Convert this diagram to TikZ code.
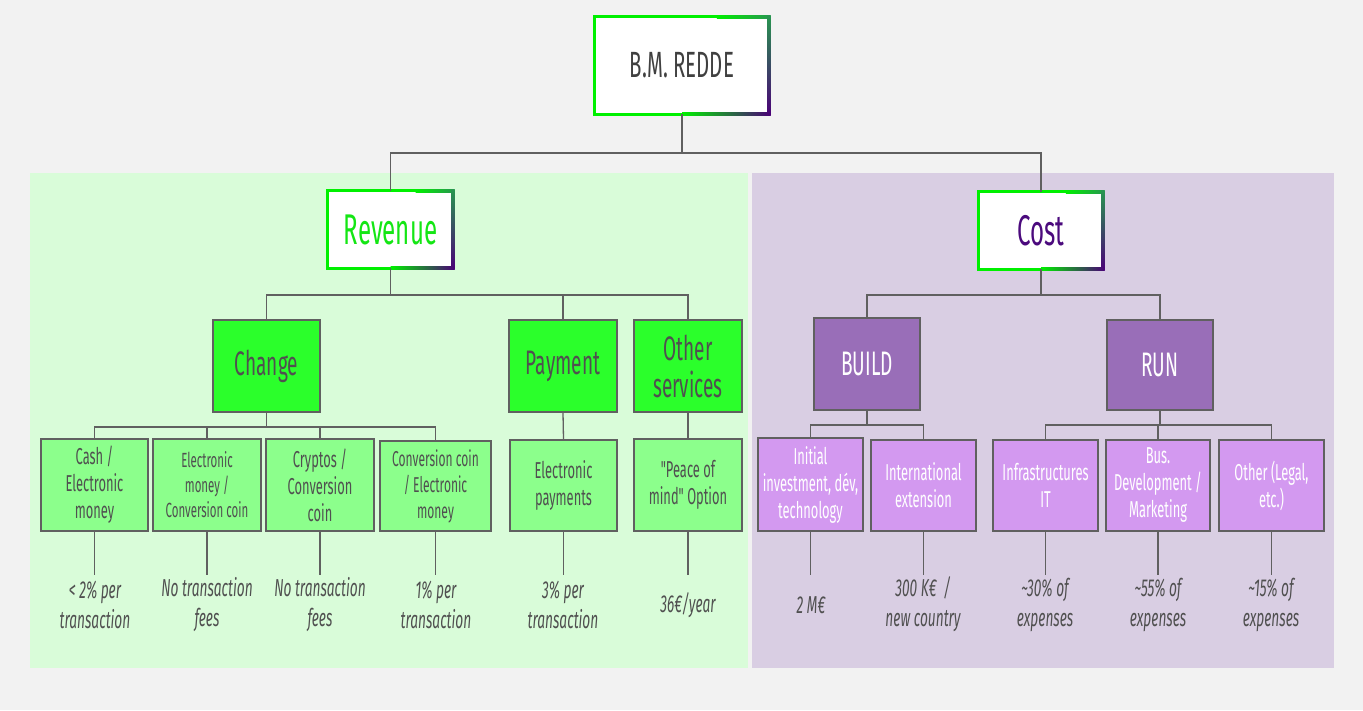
\documentclass[tikz,border=0pt]{standalone}
\usepackage{fontspec}
\setmainfont{Fira Sans}[FakeStretch=0.56, Ligatures=TeXOff]
\usetikzlibrary{calc}
\definecolor{bgc}{RGB}{242,242,242}
\definecolor{gpanel}{RGB}{217,252,217}
\definecolor{ppanel}{RGB}{217,206,227}
\definecolor{bgreen}{RGB}{0,240,0}
\definecolor{dgreen}{RGB}{40,150,80}
\definecolor{bpurple}{RGB}{75,0,120}
\definecolor{gmid}{RGB}{43,255,43}
\definecolor{gleaf}{RGB}{140,255,140}
\definecolor{pmid}{RGB}{153,110,184}
\definecolor{pleaf}{RGB}{211,153,240}
\definecolor{edgec}{RGB}{96,96,96}
\definecolor{txt}{RGB}{80,80,80}
\definecolor{revtxt}{RGB}{20,230,20}
\definecolor{costtxt}{RGB}{75,10,125}
\newcommand{\gframe}[1]{%
  \fill[bgreen] ($(#1.north west)+(-1.5,-1.5)$) rectangle ($(#1.south west)+(1.5,1.5)$);
  \fill[bgreen] ($(#1.north west)+(-1.5,-1.5)$) rectangle ($(#1.north west)!0.7!(#1.north east)+(0,1.5)$);
  \shade[left color=bgreen, right color=dgreen] ($(#1.north west)!0.7!(#1.north east)+(0,-1.5)$) rectangle ($(#1.north east)+(1.5,1.5)$);
  \shade[top color=dgreen, bottom color=bpurple] ($(#1.north east)+(-1.5,-1.5)$) rectangle ($(#1.south east)+(1.5,1.5)$);
  \fill[bgreen] ($(#1.south west)+(-1.5,-1.5)$) rectangle ($(#1.south west)!0.5!(#1.south east)+(0,1.5)$);
  \shade[left color=bgreen, right color=bpurple] ($(#1.south west)!0.5!(#1.south east)+(0,-1.5)$) rectangle ($(#1.south east)+(1.5,1.5)$);
}
\tikzset{
  box/.style={draw=edgec, line width=1.5pt, inner sep=0pt, align=center, text=txt},
  headbox/.style={fill=white, inner sep=0pt, align=center},
  gm/.style={box, fill=gmid, minimum width=107pt, minimum height=92pt, font=\fontsize{34}{37}\selectfont},
  pm/.style={box, fill=pmid, text=white, minimum width=106pt, minimum height=92pt, font=\fontsize{34}{37}\selectfont},
  gl/.style={box, fill=gleaf, minimum width=107pt, minimum height=92pt, font=\fontsize{23}{27}\selectfont},
  pl/.style={box, fill=pleaf, text=white, minimum width=105pt, minimum height=91pt, font=\fontsize{23}{27}\selectfont},
  lab/.style={align=center, text=txt, inner sep=0pt, font=\itshape\fontsize{24.5}{30}\selectfont},
  conn/.style={draw=edgec, line width=1.3pt},
}
\begin{document}
\begin{tikzpicture}[x=1pt,y=-1pt]
\useasboundingbox (0,0) rectangle (1363,710);
\fill[bgc] (0,0) rectangle (1363,710);
\fill[gpanel] (30,173) rectangle (748,668);
\fill[ppanel] (752,173) rectangle (1334,668);

% heads
\node[headbox, minimum width=174pt, minimum height=97pt, text=black!75, font=\fontsize{36.5}{40}\selectfont] (root) at (682,65.5) {B.M. REDDE};
\node[headbox, minimum width=125pt, minimum height=77pt, text=revtxt, font=\fontsize{43}{46}\selectfont] (rev) at (390.5,229.5) {Revenue};
\node[headbox, minimum width=124pt, minimum height=77pt, text=costtxt, font=\fontsize{43}{46}\selectfont] (cost) at (1041,230.5) {Cost};
\gframe{root}
\gframe{rev}
\gframe{cost}

% second level
\node[gm] (change) at (266.5,366) {Change};
\node[gm, minimum width=108pt] (payment) at (563,366) {Payment};
\node[gm, minimum width=108pt] (other) at (688,366) {Other\\services};
\node[pm] (build) at (867,364) {BUILD};
\node[pm, minimum height=90pt] (run) at (1160,365) {RUN};

% leaves
\node[gl] (cash) at (94.5,485) {Cash /\\Electronic\\money};
\node[gl, minimum width=108pt, font=\fontsize{20.5}{25}\selectfont] (emoney) at (207,485) {Electronic\\money /\\Conversion coin};
\node[gl, minimum width=108pt] (cryptos) at (320,485) {Cryptos /\\Conversion\\coin};
\node[gl, minimum width=111pt, minimum height=90pt, font=\fontsize{21.5}{26}\selectfont] (conv) at (435.5,486) {Conversion coin\\/ Electronic\\money};
\node[gl, minimum height=91pt] (epay) at (563.5,485.5) {Electronic\\payments};
\node[gl, minimum width=108pt] (peace) at (688,485) {"Peace of\\mind" Option};
\node[pl, minimum height=93pt] (init) at (810.5,484.5) {Initial\\investment, dév,\\technology};
\node[pl] (intl) at (923.5,485.5) {International\\extension};
\node[pl] (infra) at (1045.5,485.5) {Infrastructures\\IT};
\node[pl, minimum width=104pt] (bus) at (1158,485.5) {Bus.\\Development /\\Marketing};
\node[pl] (otherl) at (1271.5,485.5) {Other (Legal,\\etc.)};

% labels
\node[lab] (l1) at (95,605) {< 2\% per\\transaction};
\node[lab] (l2) at (207,605) {No transaction\\fees};
\node[lab] (l3) at (320,605) {No transaction\\fees};
\node[lab] (l4) at (436,605) {1\% per\\transaction};
\node[lab] (l5) at (563,605) {3\% per\\transaction};
\node[lab] (l6) at (688,605) {36€/year};
\node[lab] (l7) at (811,605) {2 M€};
\node[lab] (l8) at (923,604) {300 K€ \ /\\new country};
\node[lab] (l9) at (1045,605) {\textasciitilde30\% of\\expenses};
\node[lab] (l10) at (1158,605) {\textasciitilde55\% of\\expenses};
\node[lab] (l11) at (1271,605) {\textasciitilde15\% of\\expenses};

% connectors
\coordinate (j0) at (0,153);
\coordinate (j1) at (0,295);
\coordinate (j2) at (0,427);
\coordinate (j3) at (0,425);
\coordinate (stop) at (0,575);
\draw[conn] (root.south) -- (root.south |- j0) -| (rev.north);
\draw[conn] (root.south |- j0) -| (cost.north);
\draw[conn] (rev.south) -- (rev.south |- j1) -| (change.north);
\draw[conn] (rev.south |- j1) -| (payment.north);
\draw[conn] (rev.south |- j1) -| (other.north);
\draw[conn] (cost.south) -- (cost.south |- j1) -| (build.north);
\draw[conn] (cost.south |- j1) -| (run.north);
\draw[conn] (change.south) -- (change.south |- j2) -| (cash.north);
\draw[conn] (change.south |- j2) -| (emoney.north);
\draw[conn] (change.south |- j2) -| (cryptos.north);
\draw[conn] (change.south |- j2) -| (conv.north);
\draw[conn] (payment.south) -- (epay.north);
\draw[conn] (other.south) -- (peace.north);
\draw[conn] (build.south) -- (build.south |- j3) -| (init.north);
\draw[conn] (build.south |- j3) -| (intl.north);
\draw[conn] (run.south) -- (run.south |- j3) -| (infra.north);
\draw[conn] (run.south |- j3) -| (bus.north);
\draw[conn] (run.south |- j3) -| (otherl.north);
\foreach \n in {cash,emoney,cryptos,conv,epay,peace,init,intl,infra,bus,otherl}
  \draw[conn] (\n.south) -- (\n.south |- stop);
\end{tikzpicture}
\end{document}
